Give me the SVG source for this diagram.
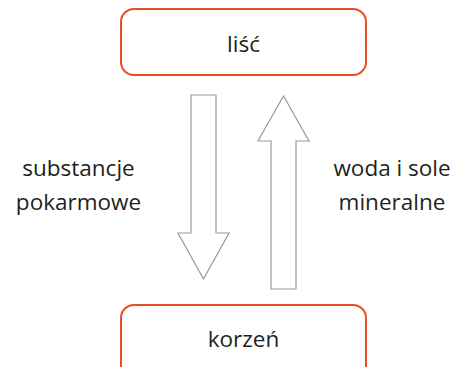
<svg xmlns="http://www.w3.org/2000/svg" width="458" height="367" viewBox="0 0 458 367">
<style>
.box{fill:#fff;stroke:#e8501e;stroke-width:2}
.arr{fill:#fff;stroke:#9a9a9a;stroke-width:1.2;stroke-linejoin:miter}
text{font-family:"Open Sans","Noto Sans",sans-serif;font-size:22.5px;fill:#231f20;text-anchor:middle}
</style>
<rect width="458" height="367" fill="#fff"/>
<g id="lisc">
<rect class="box" x="121" y="9" width="245" height="66" rx="13"/>
<text x="243.5" y="52">liść</text>
</g>
<g id="korzen">
<rect class="box" x="121" y="305" width="245" height="80" rx="13"/>
<text x="243.5" y="347">korzeń</text>
</g>
<g id="connectors">
<polygon class="arr" points="191,95 216,95 216,233 229,233 203.5,279 178,233 191,233"/>
<polygon class="arr" points="271,289 296,289 296,141 309,141 283.5,96 258,141 271,141"/>
</g>
<g id="label-left">
<text x="78.5" y="176">substancje</text>
<text x="78.5" y="210">pokarmowe</text>
</g>
<g id="label-right">
<text x="392" y="176">woda i sole</text>
<text x="392" y="210">mineralne</text>
</g>
</svg>
